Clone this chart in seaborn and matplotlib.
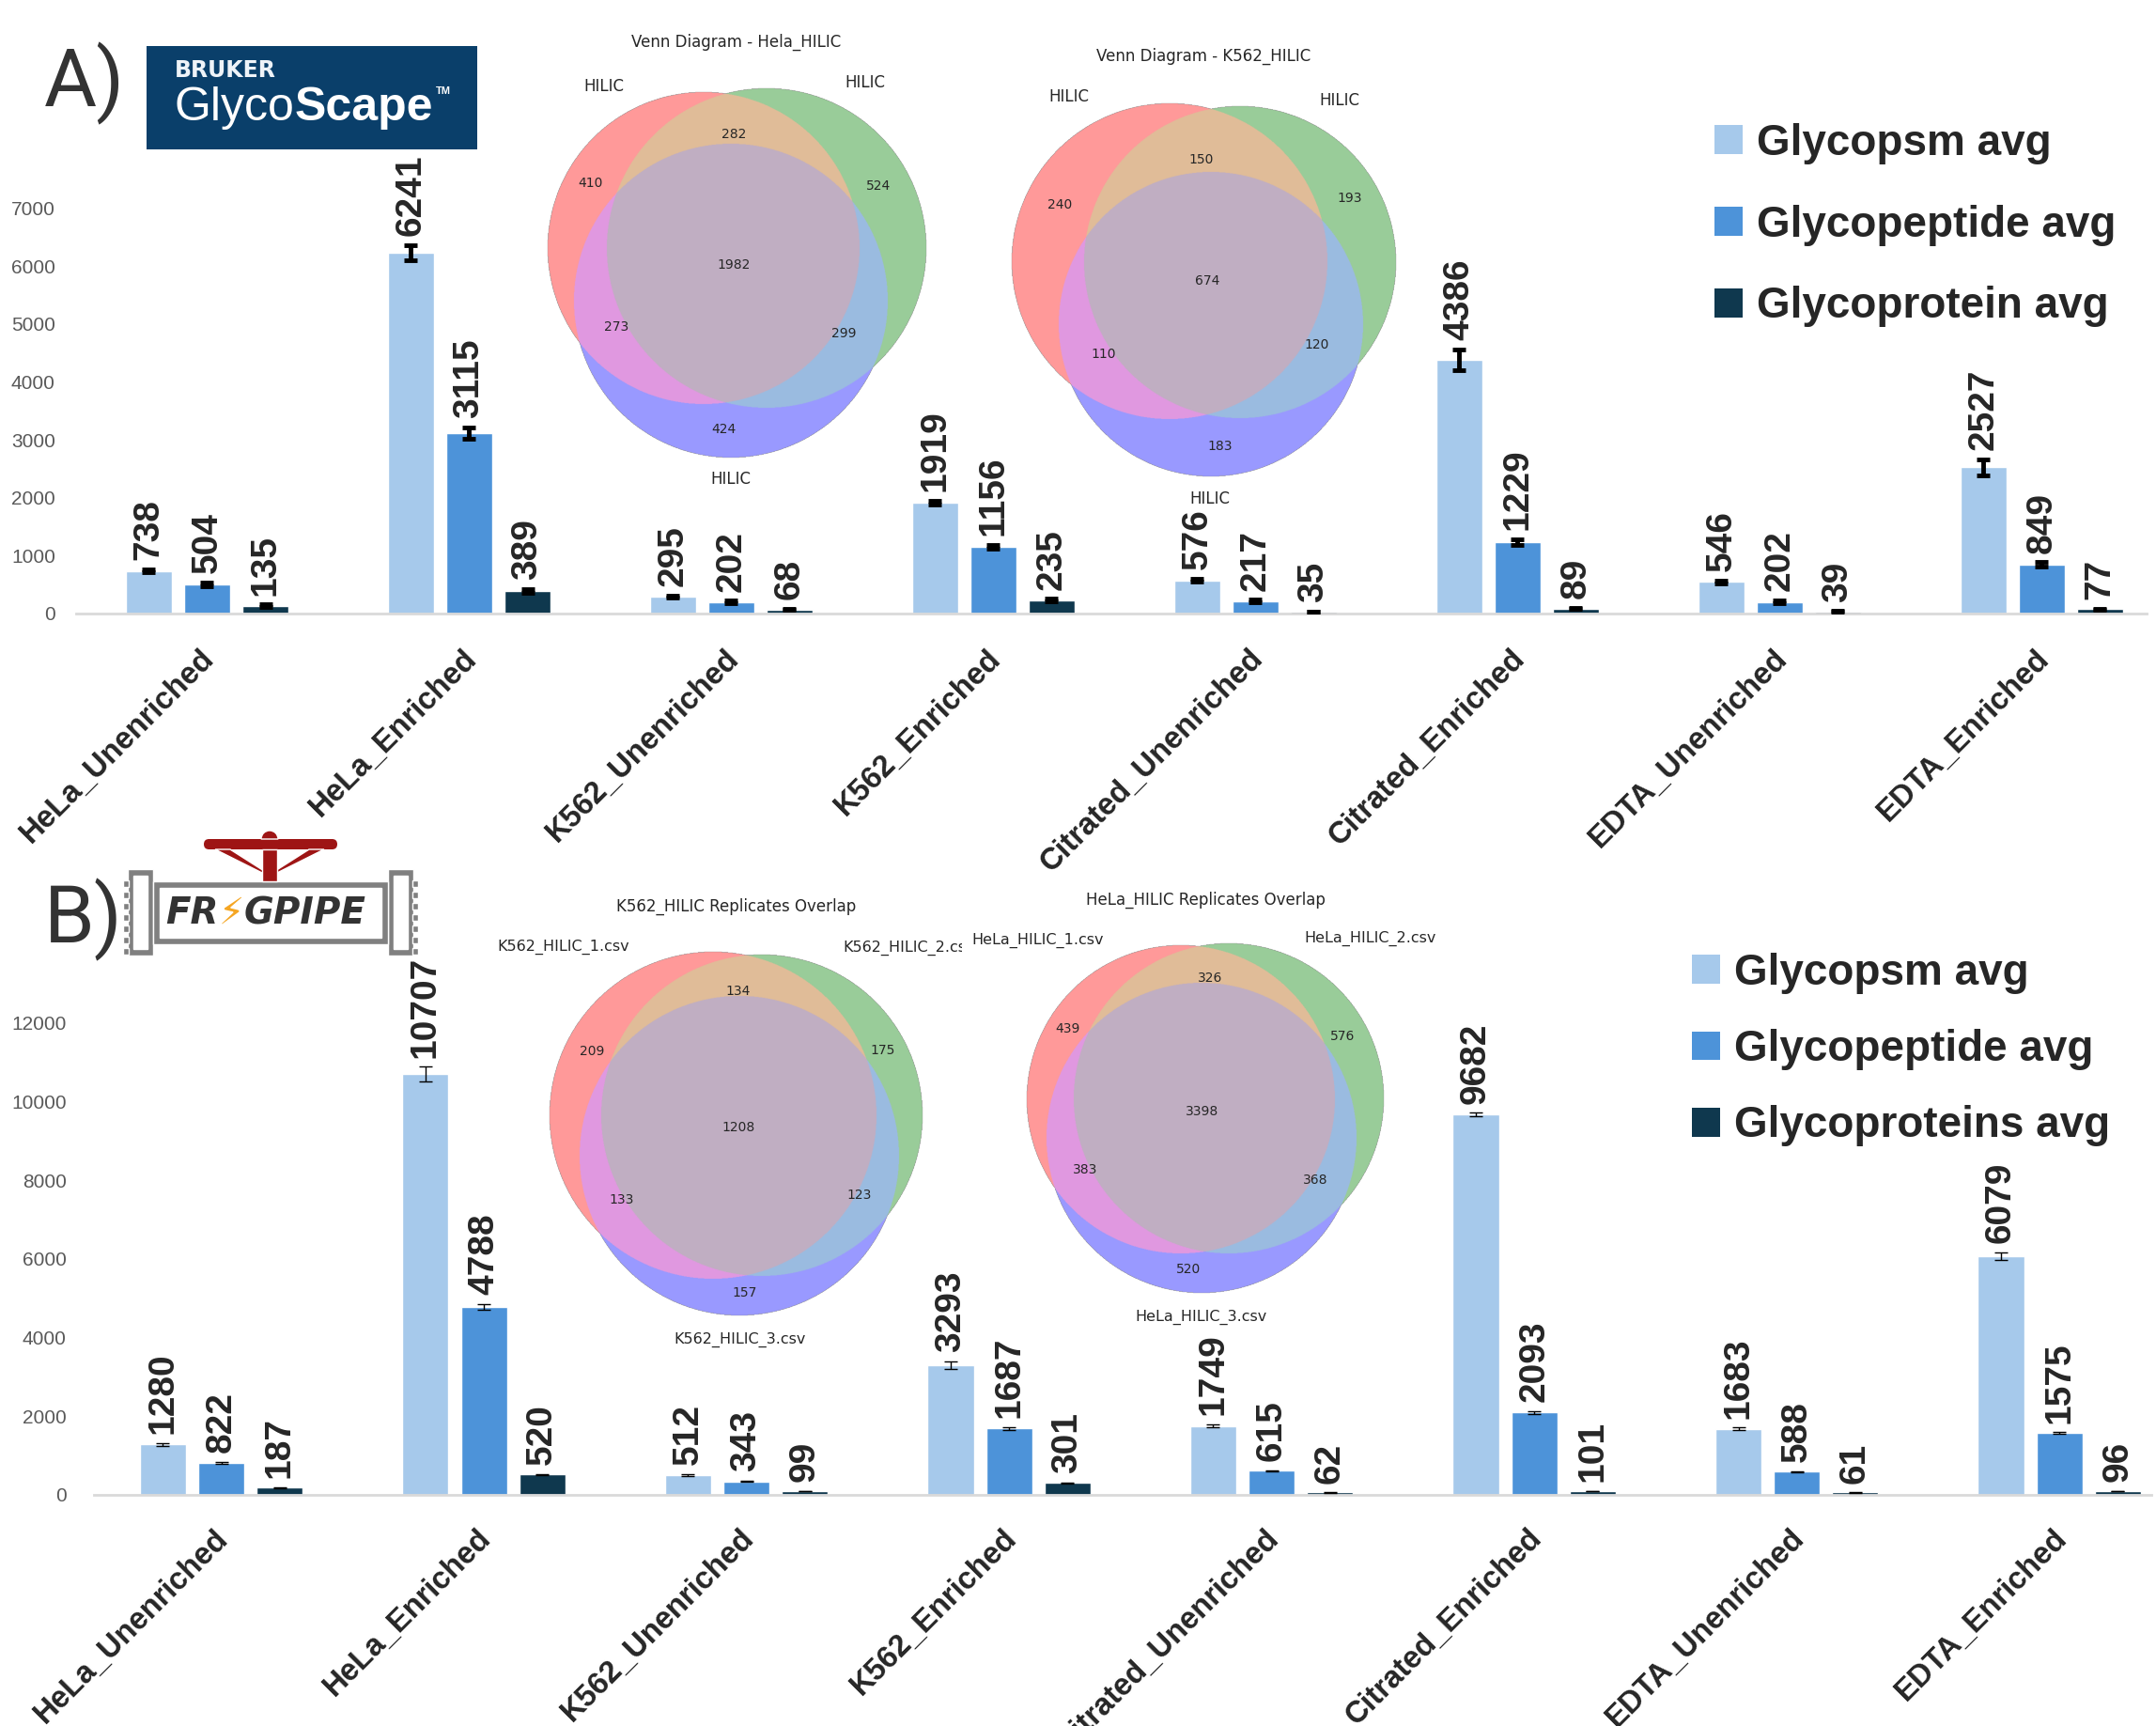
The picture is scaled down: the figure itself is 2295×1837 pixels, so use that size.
import numpy as np
import pandas as pd
import matplotlib
matplotlib.use("Agg")
import matplotlib.pyplot as plt
import seaborn as sns
from matplotlib.patches import Patch, Rectangle, FancyBboxPatch, Polygon, Wedge
from matplotlib.font_manager import FontProperties
from matplotlib.transforms import Bbox, TransformedBbox, ScaledTranslation

# ---- data -------------------------------------------------------------
samples = ["HeLa_Unenriched", "HeLa_Enriched", "K562_Unenriched", "K562_Enriched",
           "Citrated_Unenriched", "Citrated_Enriched", "EDTA_Unenriched", "EDTA_Enriched"]

# A) GlycoScape
a_series = ["Glycopsm avg", "Glycopeptide avg", "Glycoprotein avg"]
a_psm = [738, 6241, 295, 1919, 576, 4386, 546, 2527]
a_pep = [504, 3115, 202, 1156, 217, 1229, 202, 849]
a_prot = [135, 389, 68, 235, 35, 89, 39, 77]
a_psm_err = [30, 130, 20, 30, 25, 180, 25, 135]
a_pep_err = [30, 100, 20, 30, 20, 50, 25, 40]
a_prot_err = [20, 30, 10, 20, 5, 10, 5, 10]

# B) FragPipe
b_series = ["Glycopsm avg", "Glycopeptide avg", "Glycoproteins avg"]
b_psm = [1280, 10707, 512, 3293, 1749, 9682, 1683, 6079]
b_pep = [822, 4788, 343, 1687, 615, 2093, 588, 1575]
b_prot = [187, 520, 99, 301, 62, 101, 61, 96]
b_psm_err = [30, 180, 25, 100, 40, 40, 30, 95]
b_pep_err = [25, 70, 15, 35, 15, 30, 15, 20]
b_prot_err = [10, 10, 5, 10, 3, 5, 3, 5]

# venn region counts: (A only, B only, AB, C only, AC, BC, ABC)
hela_venn = [410, 524, 282, 424, 273, 299, 1982]
k562_venn = [240, 193, 150, 183, 110, 120, 674]
k562_rep_venn = [209, 175, 134, 157, 133, 123, 1208]
hela_rep_venn = [439, 576, 326, 520, 383, 368, 3398]

bar_colors = ["#a6c9eb", "#4d93d9", "#0f384e"]
region_colors = ["#ff9999", "#99cc99", "#e0bc98", "#9999ff", "#e098e0", "#9bbbe0", "#c0aec2"]

sns.set_style("white")
plt.rcParams["font.family"] = ["Liberation Sans", "DejaVu Sans"]

W, H = 2295, 1837
fig = plt.figure(figsize=(W / 100, H / 100), dpi=100)
ax_a = fig.add_axes([81 / W, 1 - 653 / H, 2204 / W, 462 / H])
ax_b = fig.add_axes([100 / W, 1 - 1591 / H, 2190 / W, 523 / H])

# overlay in pixel coords for logos / venns
ov = fig.add_axes([0, 0, 1, 1], zorder=5)
ov.set_xlim(0, W)
ov.set_ylim(H, 0)
ov.axis("off")


def bar_panel(ax, vals, errs, names, xlim, ylim, yticks, err_lw, ytick_pad, xtick_pad):
    df = pd.DataFrame({"sample": np.tile(samples, len(names)),
                       "series": np.repeat(names, len(samples)),
                       "value": np.concatenate(vals)})
    sns.barplot(df, x="sample", y="value", hue="series", palette=bar_colors,
                saturation=1, width=0.667, gap=0.21, errorbar=None, legend=False, ax=ax)
    for cont, e in zip(ax.containers, errs):
        xs = [p.get_x() + p.get_width() / 2 for p in cont]
        ys = [p.get_height() for p in cont]
        ax.errorbar(xs, ys, yerr=e, fmt="none", ecolor="black", elinewidth=err_lw,
                    capsize=4.7, capthick=err_lw, zorder=3)
        for x, y, ee in zip(xs, ys, e):
            ax.annotate(f"{y:.0f}", (x, y + ee), xytext=(0, 7), textcoords="offset points",
                        rotation=90, ha="center", va="bottom", fontsize=28, fontweight="bold")
    ax.set_xlim(*xlim)
    ax.set_ylim(*ylim)
    ax.set_xlabel("")
    ax.set_ylabel("")
    ax.set_xticks(range(len(samples)), labels=samples, rotation=45, ha="right",
                  fontweight="bold", fontsize=23.5)
    ax.set_yticks(yticks, labels=[str(t) for t in yticks], fontsize=15, color="#595959")
    ax.tick_params(axis="x", length=0, pad=xtick_pad)
    ax.tick_params(axis="y", length=0, pad=ytick_pad)
    shift = ScaledTranslation(0.14, 0.0, fig.dpi_scale_trans)
    for lab in ax.get_xticklabels():
        lab.set_transform(lab.get_transform() + shift)
    sns.despine(ax=ax, left=True)
    ax.spines["bottom"].set_color("#d9d9d9")
    ax.spines["bottom"].set_linewidth(2)


bar_panel(ax_a, [a_psm, a_pep, a_prot], [a_psm_err, a_pep_err, a_prot_err], a_series,
          (-0.5, 7.4), (0, 7500), list(range(0, 7001, 1000)), 3.5, 16, 23)
bar_panel(ax_b, [b_psm, b_pep, b_prot], [b_psm_err, b_pep_err, b_prot_err], b_series,
          (-0.485, 7.35), (0, 12500), list(range(0, 12001, 2000)), 1.0, 21, 22)


def legend(ax, names, x, y, spacing):
    handles = [Patch(facecolor=c, edgecolor="none") for c in bar_colors]
    ax.legend(handles, names, loc="upper left", bbox_to_anchor=(x, y),
              bbox_transform=ov.transData, frameon=False,
              prop=FontProperties(family="Liberation Sans", weight="bold", size=33),
              handlelength=0.66, handleheight=0.66, handletextpad=0.33,
              labelspacing=spacing, borderpad=0, borderaxespad=0)


legend(ax_a, a_series, 1825, 131, 0.93)
legend(ax_b, b_series, 1801, 1014, 0.81)


def venn(circles, counts, label_xy):
    x0 = int(min(c[0] - c[2] for c in circles)) - 3
    x1 = int(max(c[0] + c[2] for c in circles)) + 3
    y0 = int(min(c[1] - c[2] for c in circles)) - 3
    y1 = int(max(c[1] + c[2] for c in circles)) + 3
    xs = np.arange(x0, x1, 0.5) + 0.25
    ys = np.arange(y0, y1, 0.5) + 0.25
    xx, yy = np.meshgrid(xs, ys)
    code = np.zeros(xx.shape, dtype=int)
    for k, (cx, cy, r) in enumerate(circles):
        code += ((xx - cx) ** 2 + (yy - cy) ** 2 <= r ** 2).astype(int) << k
    lut = np.zeros((8, 4))
    for k, c in enumerate(region_colors, start=1):
        lut[k] = matplotlib.colors.to_rgba(c)
    ov.imshow(lut[code], extent=(x0, x1, y1, y0), origin="upper", aspect="auto",
              interpolation="antialiased", zorder=1)
    for n, (x, y) in zip(counts, label_xy):
        ov.text(x, y, str(n), ha="center", va="center", fontsize=10,
                family="DejaVu Sans", zorder=2)


def vtext(x, y, s, size=12, ha="center"):
    return ov.text(x, y, s, ha=ha, va="center", fontsize=size, family="DejaVu Sans", zorder=2)


# A1 Hela
venn([(749, 264, 166), (816, 264, 170), (778, 320, 167)], hela_venn,
     [(628, 195), (935, 198), (781, 143), (770, 457), (656, 348), (898, 355), (781, 282)])
vtext(784, 45, "Venn Diagram - Hela_HILIC")
vtext(643, 92, "HILIC"); vtext(921, 88, "HILIC"); vtext(778, 510, "HILIC")

# A2 K562
venn([(1245, 278, 168), (1320, 279, 166), (1289, 345, 162)], k562_venn,
     [(1128, 218), (1437, 211), (1279, 170), (1299, 475), (1175, 377), (1402, 367), (1285, 299)])
vtext(1281, 60, "Venn Diagram - K562_HILIC")
vtext(1138, 103, "HILIC"); vtext(1426, 107, "HILIC"); vtext(1288, 531, "HILIC")

# B1 K562 replicates
venn([(759, 1187, 174), (811, 1187, 171), (787, 1230, 170)], k562_rep_venn,
     [(630, 1119), (940, 1118), (786, 1055), (793, 1376), (662, 1277), (915, 1272), (786, 1200)])
vtext(784, 965, "K562_HILIC Replicates Overlap")
vtext(600, 1008, "K562_HILIC_1.csv", 11.5)
t = vtext(897, 1009, "K562_HILIC_2.csv", 11.5, ha="left")
t.set_clip_box(TransformedBbox(Bbox([[0, 0], [1024, H]]), ov.transData))
t.set_clip_on(True)
vtext(788, 1426, "K562_HILIC_3.csv", 11.5)

# B2 HeLa replicates
venn([(1257, 1170, 164), (1308, 1169, 165), (1279, 1211, 165)], hela_rep_venn,
     [(1137, 1095), (1429, 1103), (1288, 1041), (1265, 1351), (1155, 1245), (1400, 1256), (1280, 1183)])
vtext(1283, 958, "HeLa_HILIC Replicates Overlap")
vtext(1105, 1001, "HeLa_HILIC_1.csv", 11.5)
vtext(1459, 999, "HeLa_HILIC_2.csv", 11.5)
vtext(1279, 1402, "HeLa_HILIC_3.csv", 11.5)

# panel letters
ov.text(47, 113, "A)", fontsize=62, family="Roboto", color="#333333", va="baseline")
ov.text(47, 1003, "B)", fontsize=62, family="Roboto", color="#333333", va="baseline")

# Bruker GlycoScape logo
ov.add_patch(Rectangle((156, 49), 352, 110, facecolor="#0a3f6a", edgecolor="none"))
ov.text(186, 82, "BRUKER", fontsize=17, fontweight="bold", family="DejaVu Sans",
        color="#eef3f8", va="baseline")
g = ov.text(186, 128, "Glyco", fontsize=36, color="white", va="baseline")
sc = ov.annotate("Scape", xy=(1, 0), xycoords=g, fontsize=36, fontweight="bold",
                 color="white", va="bottom", ha="left")
ov.annotate("TM", xy=(1.02, 0.78), xycoords=sc, fontsize=8, fontweight="bold",
            color="white", va="bottom", ha="left")

# FragPipe logo
grey, red = "#808080", "#9e1515"
for fx in (136, 413):
    ov.add_patch(Rectangle((fx, 925), 27, 92, facecolor=grey))
    ov.add_patch(Rectangle((fx + 6, 932), 15, 78, facecolor="white"))
for ty in range(937, 1010, 12):
    ov.add_patch(Rectangle((131, ty), 6, 7, facecolor=grey))
    ov.add_patch(Rectangle((439, ty), 6, 7, facecolor=grey))
ov.add_patch(Rectangle((163, 938), 250, 67, facecolor=grey))
ov.add_patch(Rectangle((170, 945), 236, 53, facecolor="white"))
ov.add_patch(FancyBboxPatch((217, 893), 142, 11, boxstyle="round,pad=0,rounding_size=5.5",
                            facecolor=red, edgecolor="none"))
ov.add_patch(Wedge((287, 893), 9, 180, 360, facecolor=red))
ov.add_patch(Polygon([(229, 904), (245, 904), (289, 932), (285, 932)], facecolor=red))
ov.add_patch(Polygon([(345, 904), (329, 904), (285, 932), (289, 932)], facecolor=red))
ov.add_patch(Rectangle((279, 904), 16, 34, facecolor=red))
fr = ov.text(176, 983, "FR", fontsize=28, fontweight="bold", style="italic",
             color="#333333", va="baseline", family="DejaVu Sans")
bolt = ov.annotate("\u26a1", xy=(1, 0), xycoords=fr, fontsize=28, color="#f5a623",
                   va="bottom", ha="left", family="DejaVu Sans")
ov.annotate("GPIPE", xy=(1, 0), xycoords=bolt, fontsize=28, fontweight="bold", style="italic",
            color="#333333", va="bottom", ha="left", family="DejaVu Sans")

fig.savefig("out.png", dpi=100)
